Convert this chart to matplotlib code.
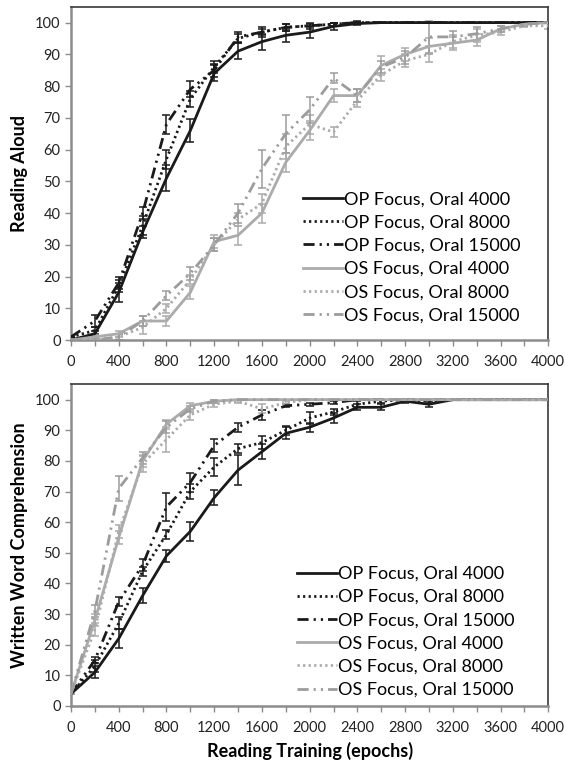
import matplotlib
matplotlib.use("Agg")
import matplotlib.pyplot as plt
import numpy as np

plt.rcParams['font.family'] = ['Lato', 'DejaVu Sans']

# reading training epochs (shared by both panels)
epochs = list(range(0, 4001, 200))

labels = ["OP Focus, Oral 4000", "OP Focus, Oral 8000", "OP Focus, Oral 15000",
          "OS Focus, Oral 4000", "OS Focus, Oral 8000", "OS Focus, Oral 15000"]

# top panel: reading aloud
aloud_op4000 = [0, 2, 15, 34, 51, 66, 84, 91, 94, 96, 97, 98.8, 99.7, 100, 100, 100, 100, 100, 100, 100, 100]
aloud_op8000 = [1, 3, 17, 36, 57, 76, 86, 95, 97, 98.5, 99, 99.5, 100, 100, 100, 100, 100, 100, 100, 100, 100]
aloud_op15000 = [1, 6, 18, 40, 68, 79, 85, 95.5, 97, 98.5, 99, 99.5, 100, 100, 100, 100, 100, 100, 100, 100, 100]
aloud_os4000 = [0, 1, 2, 6, 6, 15, 31, 33, 40, 56, 66, 77, 77, 86.5, 90, 92.5, 93.5, 94.5, 98, 99.5, 100]
aloud_os8000 = [0, 0, 1, 4, 10, 19, 30, 38, 43, 61, 68, 65.5, 75.5, 83.5, 88, 90, 94, 96, 97, 99, 99]
aloud_os15000 = [0, 0, 1, 6, 14, 21, 30, 40, 54, 65, 72.5, 82.5, 77, 86, 89, 95.5, 95.5, 96.5, 98, 99.5, 100]

aloud_op4000_err = [0, 1, 3, 2, 4, 3.5, 2.5, 2.5, 2.5, 2, 2, 1, 0.5, 0, 0, 0, 0, 0, 0, 0, 0]
aloud_op8000_err = [0, 1, 2, 3, 3, 2.5, 2, 1.5, 1.5, 1, 1, 0.5, 0.5, 0, 0, 0, 0, 0, 0, 0, 0]
aloud_op15000_err = [0, 2, 2, 2, 3, 2.5, 2, 1.5, 1, 1, 0.5, 0.5, 0, 0, 0, 0, 0, 0, 0, 0, 0]
aloud_os4000_err = [0, 0.5, 1, 1.5, 1.5, 2, 2, 3, 3, 3, 3, 2, 2, 3, 2, 2.5, 2, 2, 1, 0.5, 0]
aloud_os8000_err = [0, 0.5, 1, 2, 1.5, 1.5, 2, 2, 3, 4, 3, 1.5, 2, 2, 2, 2.5, 2, 2, 1, 0.5, 1]
aloud_os15000_err = [0, 0.5, 1, 1.5, 1.5, 2, 2, 3, 6, 6, 4, 1.5, 2, 2, 2, 5, 2, 2, 1, 0.5, 0]

# bottom panel: written word comprehension
comp_op4000 = [4, 11, 22, 36, 49, 57, 68, 77, 83, 89, 91, 94, 97.5, 97.5, 99.5, 98.5, 100, 100, 100, 100, 100]
comp_op8000 = [4, 13, 27, 44, 56, 70, 78, 84, 86, 90, 94, 96, 98.5, 99.5, 100, 99.5, 100, 100, 100, 100, 100]
comp_op15000 = [4, 15, 34, 46, 65, 73, 85, 91, 95, 98, 98.5, 99, 100, 100, 100, 100, 100, 100, 100, 100, 100]
comp_os4000 = [4, 28, 55, 80, 92, 98, 99.5, 100, 100, 100, 100, 100, 100, 100, 100, 100, 100, 100, 100, 100, 100]
comp_os8000 = [4, 25, 57, 79, 87, 95, 98.5, 99.5, 97, 99, 100, 100, 100, 100, 100, 100, 100, 100, 100, 100, 100]
comp_os15000 = [4, 31, 71, 81, 91, 97, 99.5, 100, 100, 100, 100, 100, 100, 100, 100, 100, 100, 100, 100, 100, 100]

comp_op4000_err = [0, 2, 3, 2.5, 2, 3, 2.5, 5, 2.5, 2, 1.5, 1.5, 1, 1, 0.5, 1, 0, 0, 0, 0, 0]
comp_op8000_err = [0, 2, 2, 1.5, 1.5, 2.5, 3, 1.5, 2, 1.5, 2, 1, 1, 0.5, 0, 0.5, 0, 0, 0, 0, 0]
comp_op15000_err = [0, 1, 1.5, 2, 4.5, 3, 2, 1.5, 1.5, 0.5, 0.5, 0.5, 0, 0, 0, 0, 0, 0, 0, 0, 0]
comp_os4000_err = [0, 2, 2, 2, 1.5, 1, 0.5, 0, 0, 0, 0, 0, 0, 0, 0, 0, 0, 0, 0, 0, 0]
comp_os8000_err = [0, 2, 2, 2.5, 4, 1.5, 1, 0.5, 1.5, 0.5, 0, 0, 0, 0, 0, 0, 0, 0, 0, 0, 0]
comp_os15000_err = [0, 2, 4, 2, 2, 1, 0.5, 0, 0, 0, 0, 0, 0, 0, 0, 0, 0, 0, 0, 0, 0]

BLACK = '#1a1a1a'
GRAY = '#ababab'
GRAY2 = '#9c9c9c'
DASHDOT = (0, (4, 1.8, 0.8, 1.8, 0.8, 1.8))
DOT = (0, (0.8, 1.2))
styles = [(BLACK, '-'), (BLACK, DOT), (BLACK, DASHDOT),
          (GRAY, '-'), (GRAY, DOT), (GRAY2, DASHDOT)]


def draw_panel(ax, series, errs, ylabel, legend_pos):
    for y, e, (c, ls), lab in zip(series, errs, styles, labels):
        ax.errorbar(epochs, y, yerr=e, fmt='none', ecolor=c, elinewidth=1.1,
                    capsize=3, capthick=1.1, zorder=2)
        ax.plot(epochs, y, color=c, linestyle=ls, linewidth=2.0, label=lab, zorder=3)
    ax.set_xlim(0, 4000)
    ax.set_ylim(0, 105)
    ax.set_xticks(range(0, 4001, 400))
    ax.set_xticks(range(0, 4001, 200), minor=True)
    ax.set_yticks(range(0, 101, 10))
    ax.tick_params(axis='both', which='both', direction='out', length=4, width=1,
                   color='#8c8c8c', labelsize=10.5, labelcolor='#222222')
    ax.tick_params(axis='x', which='both', pad=7)
    for s in ['top', 'right']:
        ax.spines[s].set_color('#3a3a3a')
        ax.spines[s].set_linewidth(1.2)
    for s in ['left', 'bottom']:
        ax.spines[s].set_color('#8c8c8c')
        ax.spines[s].set_linewidth(1.8)
    ax.set_ylabel(ylabel, fontsize=13, fontweight='bold', labelpad=5)
    ax.legend(loc='lower left', bbox_to_anchor=legend_pos, frameon=False,
              fontsize=13, handlelength=2.2, handletextpad=0.05,
              labelspacing=0.4, borderpad=0, borderaxespad=0)


fig = plt.figure(figsize=(5.65, 7.73), dpi=100)
ax1 = fig.add_axes([0.1257, 0.5601, 0.8447, 0.4312])
ax2 = fig.add_axes([0.1257, 0.0867, 0.8447, 0.4161])

draw_panel(ax1,
           [aloud_op4000, aloud_op8000, aloud_op15000, aloud_os4000, aloud_os8000, aloud_os15000],
           [aloud_op4000_err, aloud_op8000_err, aloud_op15000_err,
            aloud_os4000_err, aloud_os8000_err, aloud_os15000_err],
           'Reading Aloud', (0.486, 0.05))
draw_panel(ax2,
           [comp_op4000, comp_op8000, comp_op15000, comp_os4000, comp_os8000, comp_os15000],
           [comp_op4000_err, comp_op8000_err, comp_op15000_err,
            comp_os4000_err, comp_os8000_err, comp_os15000_err],
           'Written Word Comprehension', (0.4735, 0.025))
ax2.set_xlabel('Reading Training (epochs)', fontsize=13, fontweight='bold', labelpad=5)

fig.savefig('out.png', dpi=100)
